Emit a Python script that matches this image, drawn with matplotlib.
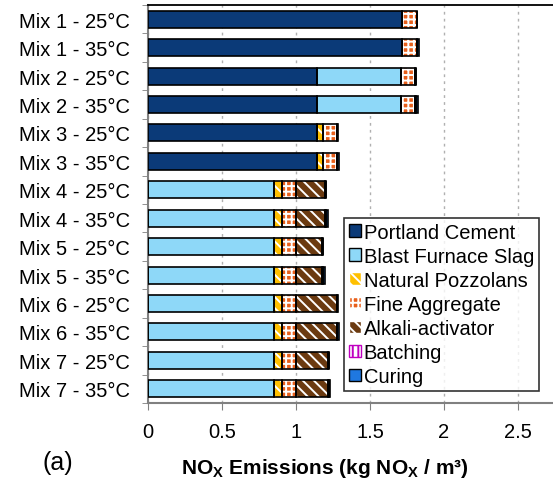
import matplotlib.pyplot as plt
from matplotlib.patches import Patch
import numpy as np

plt.rcParams['font.family'] = ['Liberation Sans', 'DejaVu Sans']
plt.rcParams['mathtext.fontset'] = 'custom'
plt.rcParams['mathtext.bf'] = 'Liberation Sans:bold'
plt.rcParams['hatch.linewidth'] = 1.4

# mixes, top to bottom
mixes = ['Mix 1 - 25°C', 'Mix 1 - 35°C', 'Mix 2 - 25°C', 'Mix 2 - 35°C',
         'Mix 3 - 25°C', 'Mix 3 - 35°C', 'Mix 4 - 25°C', 'Mix 4 - 35°C',
         'Mix 5 - 25°C', 'Mix 5 - 35°C', 'Mix 6 - 25°C', 'Mix 6 - 35°C',
         'Mix 7 - 25°C', 'Mix 7 - 35°C']

# kg NOx / m3 per contributor
portland = [1.714, 1.714, 1.142, 1.142, 1.142, 1.142, 0, 0, 0, 0, 0, 0, 0, 0]
slag = [0, 0, 0.565, 0.565, 0, 0, 0.851, 0.851, 0.851, 0.851, 0.851, 0.851, 0.851, 0.851]
pozzolans = [0, 0, 0, 0, 0.038, 0.038, 0.057, 0.057, 0.057, 0.057, 0.057, 0.057, 0.057, 0.057]
fine_agg = [0.100, 0.100, 0.100, 0.100, 0.095, 0.095, 0.090, 0.090, 0.090, 0.090, 0.090, 0.090, 0.090, 0.090]
alkali = [0, 0, 0, 0, 0, 0, 0.200, 0.200, 0.180, 0.180, 0.277, 0.277, 0.220, 0.220]
batching = [0.002] * 14
curing = [0.004, 0.012, 0.004, 0.012, 0.004, 0.014, 0.004, 0.018, 0.004, 0.016, 0.004, 0.016, 0.004, 0.012]

series = [
    ('Portland Cement', portland, '#0b3a78', None, None),
    ('Blast Furnace Slag', slag, '#8ed8f8', None, None),
    ('Natural Pozzolans', pozzolans, '#ffc000', 'white', '\\\\\\'),
    ('Fine Aggregate', fine_agg, '#e8601c', 'white', '+++'),
    ('Alkali-activator', alkali, '#6b3a10', 'white', '\\\\\\'),
    ('Batching', batching, 'white', '#c000c0', '|||'),
    ('Curing', curing, '#1f78e0', None, None),
]

fig = plt.figure(figsize=(5.53, 4.81), dpi=100)
ax = fig.add_axes([0.2676, 0.16, 0.7324, 0.8275])

y = np.arange(len(mixes))
left = np.zeros(len(mixes))
handles = []
for name, vals, color, hcolor, hatch in series:
    vals = np.array(vals)
    if hatch:
        ax.barh(y, vals, left=left, height=0.6, color=color, edgecolor=hcolor,
                hatch=hatch, linewidth=0, zorder=3)
    else:
        ax.barh(y, vals, left=left, height=0.6, color=color, linewidth=0, zorder=3)
    ax.barh(y, vals, left=left, height=0.6, fill=False, edgecolor='black',
            linewidth=1.2, zorder=4)
    left += vals
    handles.append(Patch(facecolor=color, edgecolor=hcolor if hatch else 'black',
                         hatch=hatch, label=name))

ax.set_xlim(0, 2.736)
ax.set_ylim(len(mixes) - 0.5, -0.5)
ax.set_xticks([0, 0.5, 1, 1.5, 2, 2.5])
ax.set_xticklabels(['0', '0.5', '1', '1.5', '2', '2.5'])
ax.set_yticks(y)
ax.set_yticklabels(mixes)
ax.set_yticks(np.arange(len(mixes) + 1) - 0.5, minor=True)
ax.tick_params(axis='y', which='major', length=0, pad=13, labelsize=14.5)
ax.tick_params(axis='y', which='minor', length=4, color='#808080', direction='out')
ax.tick_params(axis='x', length=5, color='#808080', pad=9, labelsize=14.5)
ax.grid(axis='x', color='#b0b0b0', linestyle=(0, (2, 3)), linewidth=1, zorder=0)

for s in ['left', 'bottom']:
    ax.spines[s].set_color('#808080')
    ax.spines[s].set_linewidth(1.5)
ax.spines['top'].set_linewidth(1.3)
ax.spines['right'].set_visible(False)

# axis title sits left of the axes centre
fig.text(0.588, 0.026, r'NO$_\mathbf{X}$ Emissions (kg NO$_\mathbf{X}$ / m³)',
         fontweight='bold', fontsize=15, ha='center', va='center')
fig.text(0.104, 0.037, '(a)', fontsize=18, ha='center', va='center')

leg = ax.legend(handles=handles, loc='lower right', bbox_to_anchor=(0.966, 0.03),
                fontsize=14.5, frameon=True, fancybox=False, edgecolor='black',
                handlelength=0.6, handleheight=0.6, handletextpad=0.15,
                labelspacing=0.25, borderpad=0.25, borderaxespad=0)
leg.get_frame().set_linewidth(1.2)
leg.set_zorder(5)

fig.savefig('out.png', dpi=100)
